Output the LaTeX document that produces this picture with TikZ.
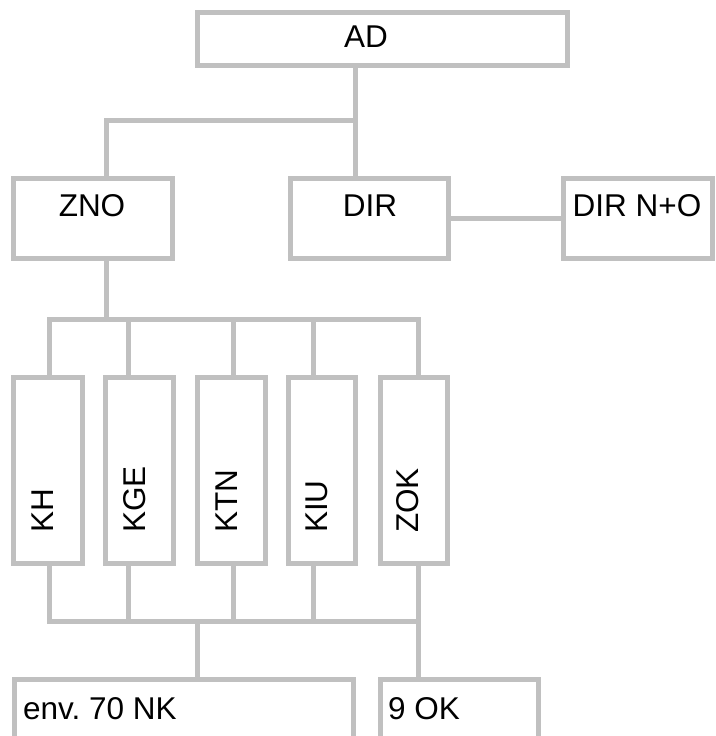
\documentclass[tikz,border=0pt]{standalone}
\usepackage{fontspec}
\setmainfont{Liberation Sans}
\definecolor{lineg}{RGB}{192,192,192}
\begin{document}
\begin{tikzpicture}[x=1pt,y=-1pt,
  box/.style={draw=lineg, line width=5pt, fill=white, inner sep=0pt, rectangle},
  lbl/.style={inner sep=0pt, font=\fontsize{31.5}{38}\selectfont, text=black},
  conn/.style={draw=lineg, line width=5pt, line cap=rect}]
\useasboundingbox (0,0) rectangle (715,736);
% boxes (line-centre sizes)
\node[box, minimum width=370pt, minimum height=53pt] (AD) at (382,38.5) {};
\node[box, minimum width=159pt, minimum height=80pt] (ZNO) at (92.5,218) {};
\node[box, minimum width=158pt, minimum height=80pt] (DIR) at (369,218) {};
\node[box, minimum width=149pt, minimum height=80pt] (DIRNO) at (637.5,218) {};
\node[box, minimum width=69pt, minimum height=186pt] (KH) at (47.5,470) {};
\node[box, minimum width=68pt, minimum height=186pt] (KGE) at (139,470) {};
\node[box, minimum width=68pt, minimum height=186pt] (KTN) at (231,470) {};
\node[box, minimum width=67pt, minimum height=186pt] (KIU) at (321.5,470) {};
\node[box, minimum width=67pt, minimum height=186pt] (ZOK) at (413.5,470) {};
\node[box, minimum width=339pt, minimum height=90pt] (ENV) at (183.5,724) {};
\node[box, minimum width=158pt, minimum height=90pt] (OK) at (459,724) {};
% labels
\node[lbl, anchor=base] (tAD) at (366,47) {AD};
\node[lbl, anchor=base] (tZNO) at (92,216) {ZNO};
\node[lbl, anchor=base] (tDIR) at (370,216) {DIR};
\node[lbl, anchor=base] (tDIRNO) at (637,216) {DIR N+O};
\node[lbl, anchor=base west, rotate=90] (tKH) at (53,533) {KH};
\node[lbl, anchor=base west, rotate=90] (tKGE) at (145,533) {KGE};
\node[lbl, anchor=base west, rotate=90] (tKTN) at (237,533) {KTN};
\node[lbl, anchor=base west, rotate=90] (tKIU) at (327,533) {KIU};
\node[lbl, anchor=base west, rotate=90] (tZOK) at (418,533) {ZOK};
\node[lbl, anchor=base west] (tENV) at (23,719) {env.~70 NK};
\node[lbl, anchor=base west] (tOK) at (388,719) {9 OK};
% junction coordinates
\coordinate (xa) at (355,0);
\coordinate (xz) at (106,0);
\coordinate (j1) at (355,120);
\coordinate (j2) at (106,319);
\coordinate (t1) at (49,319);
\coordinate (t2) at (128,319);
\coordinate (t3) at (233,319);
\coordinate (t4) at (313,319);
\coordinate (t5) at (418,319);
\coordinate (b1) at (49,621);
\coordinate (b2) at (128,621);
\coordinate (b3) at (233,621);
\coordinate (b4) at (313,621);
\coordinate (b5) at (418,621);
\coordinate (be) at (197,621);
% connectors
\draw[conn] (AD.south -| xa) -- (DIR.north -| xa);
\draw[conn] (ZNO.north -| xz) |- (j1);
\draw[conn] (DIR.east) -- (DIRNO.west);
\draw[conn] (ZNO.south -| xz) -- (j2);
\draw[conn] (t1) -- (t5);
\draw[conn] (t1) -- (KH.north -| t1);
\draw[conn] (t2) -- (KGE.north -| t2);
\draw[conn] (t3) -- (KTN.north -| t3);
\draw[conn] (t4) -- (KIU.north -| t4);
\draw[conn] (t5) -- (ZOK.north -| t5);
\draw[conn] (KH.south -| b1) -- (b1);
\draw[conn] (KGE.south -| b2) -- (b2);
\draw[conn] (KTN.south -| b3) -- (b3);
\draw[conn] (KIU.south -| b4) -- (b4);
\draw[conn] (ZOK.south -| b5) -- (b5);
\draw[conn] (b1) -- (b5);
\draw[conn] (be) -- (ENV.north -| be);
\draw[conn] (b5) -- (OK.north -| b5);
\end{tikzpicture}
\end{document}
